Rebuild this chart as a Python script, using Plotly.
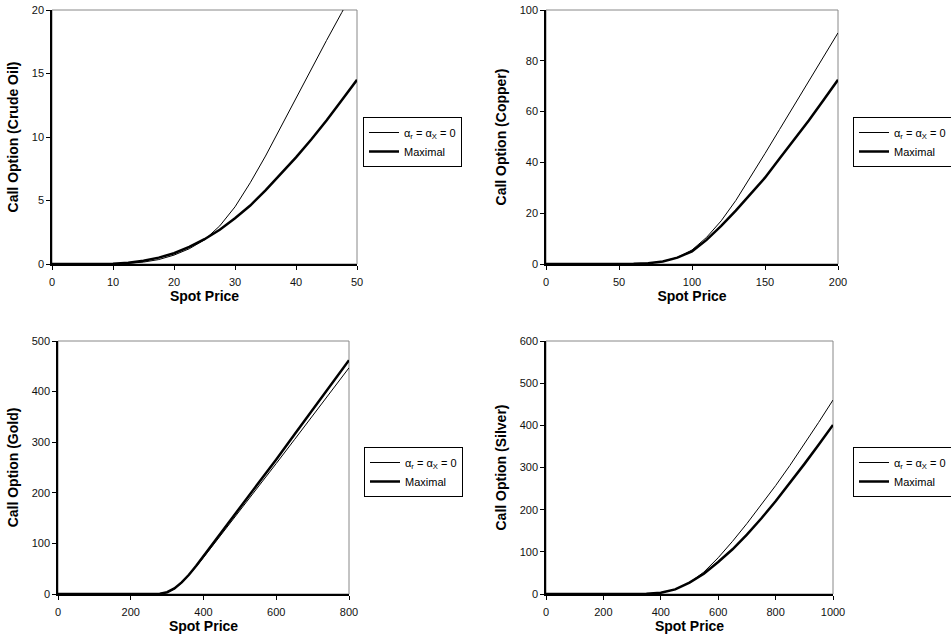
import plotly.graph_objects as go

# ---------------- data ----------------
oil_x = [0, 5, 10, 12.5, 15, 17.5, 20, 22.5, 25, 27.5, 30, 32.5, 35, 37.5, 40, 42.5, 45, 47.5, 50]
oil_zero = [0, 0, 0.01, 0.05, 0.15, 0.35, 0.7, 1.2, 1.9, 3.0, 4.5, 6.4, 8.5, 10.8, 13.1, 15.4, 17.6, 19.8, 22.0]
oil_max = [0, 0, 0.02, 0.1, 0.25, 0.5, 0.85, 1.35, 1.95, 2.7, 3.6, 4.6, 5.8, 7.1, 8.4, 9.8, 11.3, 12.9, 14.5]

cu_x = [0, 25, 50, 60, 70, 80, 90, 100, 110, 120, 130, 140, 150, 160, 170, 180, 190, 200]
cu_zero = [0, 0, 0, 0.05, 0.3, 1.0, 2.6, 5.5, 10.5, 17, 25, 34, 43.5, 53, 62.5, 72, 81.5, 91]
cu_max = [0, 0, 0, 0.05, 0.3, 1.0, 2.5, 5.0, 9.5, 15, 21, 27.5, 34, 41.5, 49, 56.5, 64.5, 72.5]

au_x = [0, 100, 200, 250, 280, 300, 320, 340, 360, 380, 400, 450, 500, 550, 600, 650, 700, 750, 800]
au_zero = [0, 0, 0, 0, 0.5, 3, 10, 22, 37, 54, 72, 118, 165, 212, 258, 305, 352, 399, 447]
au_max = [0, 0, 0, 0, 0.5, 3.5, 11, 23, 38, 56, 75, 122, 170, 218, 266, 315, 364, 413, 462]

ag_x = [0, 100, 200, 300, 350, 400, 450, 500, 550, 600, 650, 700, 750, 800, 850, 900, 950, 1000]
ag_zero = [0, 0, 0, 0, 0.5, 3, 11, 27, 52, 86, 125, 167, 211, 257, 305, 355, 407, 460]
ag_max = [0, 0, 0, 0, 0.5, 3, 11, 27, 48, 76, 106, 141, 179, 220, 263, 308, 354, 401]

names = ["α<sub>r</sub> = α<sub>X</sub> = 0", "Maximal"]

panels = [
    dict(x=oil_x, a=oil_zero, b=oil_max, xr=[0, 50], xd=10, yr=[0, 20], yd=5,
         title="Call Option (Crude Oil)", px=(52, 357), py=(10, 264), leg=(363, 117)),
    dict(x=cu_x, a=cu_zero, b=cu_max, xr=[0, 200], xd=50, yr=[0, 100], yd=20,
         title="Call Option (Copper)", px=(546, 838), py=(10, 264), leg=(853, 117)),
    dict(x=au_x, a=au_zero, b=au_max, xr=[0, 800], xd=200, yr=[0, 500], yd=100,
         title="Call Option (Gold)", px=(58, 349), py=(341, 594), leg=(364, 447)),
    dict(x=ag_x, a=ag_zero, b=ag_max, xr=[0, 1000], xd=200, yr=[0, 600], yd=100,
         title="Call Option (Silver)", px=(546, 833), py=(341, 594), leg=(853, 447)),
]

W, H = 951, 640
fig = go.Figure()
layout = dict(width=W, height=H, margin=dict(l=0, r=0, t=0, b=0, autoexpand=False),
              paper_bgcolor="white", plot_bgcolor="white",
              font=dict(family="Arial, Liberation Sans, sans-serif", size=11, color="#111"),
              shapes=[])

for i, p in enumerate(panels, start=1):
    sfx = "" if i == 1 else str(i)
    xa, ya = "x" + sfx, "y" + sfx
    lg = "legend" + sfx
    fig.add_trace(go.Scatter(x=p["x"], y=p["a"], mode="lines", name=names[0],
                             line=dict(color="black", width=1), xaxis=xa, yaxis=ya, legend=lg))
    fig.add_trace(go.Scatter(x=p["x"], y=p["b"], mode="lines", name=names[1],
                             line=dict(color="black", width=2.5), xaxis=xa, yaxis=ya, legend=lg))
    xd = [p["px"][0] / W, p["px"][1] / W]
    yd = [1 - p["py"][1] / H, 1 - p["py"][0] / H]
    layout["xaxis" + sfx] = dict(domain=xd, anchor=ya, range=p["xr"], dtick=p["xd"],
                                 showgrid=False, zeroline=False, showline=True,
                                 linecolor="black", linewidth=1.5, ticks="outside",
                                 ticklen=4, tickcolor="black", automargin=False,
                                 ticklabelstandoff=3,
                                 title=dict(text="<b>Spot Price</b>", standoff=4,
                                            font=dict(size=14, color="black")))
    layout["yaxis" + sfx] = dict(domain=yd, anchor=xa, range=p["yr"], dtick=p["yd"],
                                 showgrid=False, zeroline=False, showline=True,
                                 linecolor="black", linewidth=1.5, ticks="outside",
                                 ticklen=4, tickcolor="black", automargin=False,
                                 title=dict(text="<b>" + p["title"] + "</b>", standoff=10,
                                            font=dict(size=14, color="black")))
    layout["shapes"].append(dict(type="rect", xref="paper", yref="paper",
                                 x0=xd[0], x1=xd[1], y0=yd[0], y1=yd[1],
                                 line=dict(color="#888", width=1), layer="below"))
    layout[lg] = dict(x=p["leg"][0] / W, y=1 - p["leg"][1] / H, xanchor="left", yanchor="top",
                      bordercolor="black", borderwidth=1, bgcolor="white",
                      font=dict(size=11, color="black"), tracegroupgap=0)

fig.update_layout(**layout)
fig.write_html("out.html")
